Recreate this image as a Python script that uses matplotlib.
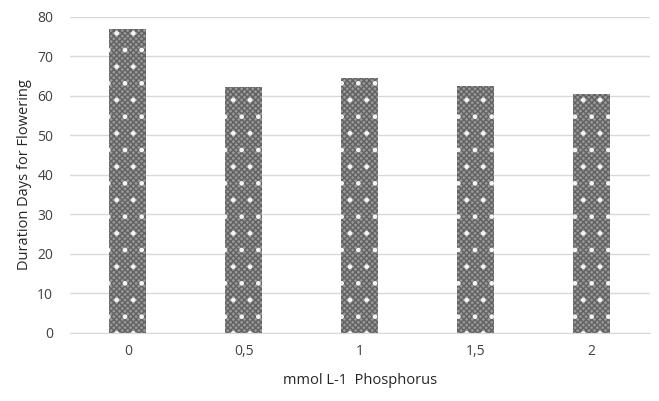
import matplotlib.pyplot as plt
import numpy as np

plt.rcParams['font.family'] = ['Open Sans', 'DejaVu Sans']
plt.rcParams['hatch.linewidth'] = 1.0

categories = ["0", "0,5", "1", "1,5", "2"]
days = [77.0, 62.2, 64.5, 62.6, 60.4]

fig = plt.figure(figsize=(6.59, 4.01), dpi=100)
ax = fig.add_axes([0.106, 0.170, 0.880, 0.788])

x = np.arange(len(categories))
# gray checker base plus sparse white dots
ax.bar(x, days, width=0.32, color='#999999', hatch='xxxxxx', edgecolor='#626262', linewidth=0, zorder=2)
ax.bar(x, days, width=0.32, color='none', hatch='.', edgecolor='#f4f4f4', linewidth=0, zorder=3)

ax.set_xlim(-0.5, len(categories) - 0.5)
ax.set_ylim(0, 80)
ax.set_yticks(range(0, 81, 10))
ax.set_xticks(x)
ax.set_xticklabels(categories)
ax.yaxis.grid(True, color='#d9d9d9', linewidth=1)
ax.set_axisbelow(True)
for s in ['top', 'right', 'left']:
    ax.spines[s].set_visible(False)
ax.spines['bottom'].set_color('#d9d9d9')
ax.tick_params(length=0, labelsize=10, labelcolor='#404040', pad=8)
ax.tick_params(axis='y', pad=12)
ax.set_ylabel('Duration Days for Flowering', fontsize=10.5, color='#262626', labelpad=4)
ax.set_xlabel('mmol L-1  Phosphorus', fontsize=10.5, color='#262626', labelpad=10)

fig.savefig('out.png')
